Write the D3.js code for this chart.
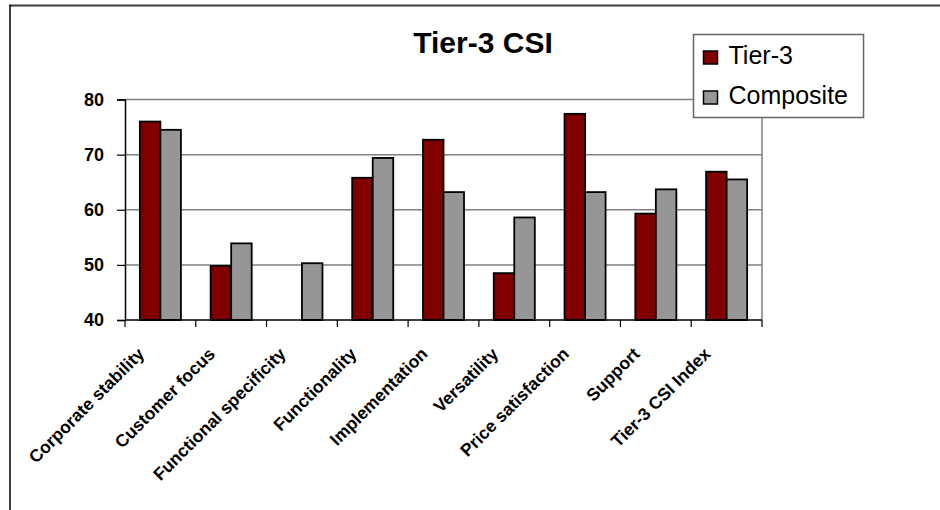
<!DOCTYPE html>
<html>
<head>
<meta charset="utf-8">
<script src="https://cdn.jsdelivr.net/npm/d3@7"></script>
<style>
  body { margin: 0; background: #fff; }
  text { font-family: "Liberation Sans", Arial, sans-serif; }
</style>
</head>
<body>
<div id="chart"></div>
<script>
// chart data
var categories = ["Corporate stability", "Customer focus", "Functional specificity",
  "Functionality", "Implementation", "Versatility", "Price satisfaction",
  "Support", "Tier-3 CSI Index"];
var seriesNames = ["Tier-3", "Composite"];
var tier3 = [76, 49.8, null, 65.8, 72.7, 48.5, 77.4, 59.3, 66.9];
var composite = [74.5, 53.9, 50.3, 69.4, 63.2, 58.6, 63.2, 63.7, 65.5];
var yTicks = [40, 50, 60, 70, 80];
var colors = ["#800000", "#969696"];

var width = 940, height = 510;
var plot = {left: 125, right: 762, top: 99.5, bottom: 320};

var svg = d3.select("#chart").append("svg")
  .attr("width", width)
  .attr("height", height);

// outer frame (only top and left visible)
svg.append("line").attr("x1", 9).attr("x2", width).attr("y1", 5.5).attr("y2", 5.5)
  .attr("stroke", "#3a3a3a").attr("stroke-width", 2);
svg.append("line").attr("x1", 10).attr("x2", 10).attr("y1", 5).attr("y2", height)
  .attr("stroke", "#000").attr("stroke-width", 1.5);

var x0 = d3.scaleBand().domain(categories).range([plot.left, plot.right]).padding(0);
var bw = x0.bandwidth();
var x1 = d3.scaleBand().domain(seriesNames).range([bw * 0.21, bw * 0.79]).padding(0);
var y = d3.scaleLinear().domain([40, 80]).range([plot.bottom, plot.top]);

// gridlines
svg.append("g").selectAll("line")
  .data(yTicks.filter(function(d) { return d > 40; }))
  .enter().append("line")
  .attr("x1", plot.left).attr("x2", plot.right)
  .attr("y1", function(d) { return y(d); })
  .attr("y2", function(d) { return y(d); })
  .attr("stroke", "#808080").attr("stroke-width", 1.5);

// right border of plot area
svg.append("line").attr("x1", plot.right).attr("x2", plot.right)
  .attr("y1", plot.top).attr("y2", plot.bottom)
  .attr("stroke", "#808080").attr("stroke-width", 1.5);

// bars
var rows = categories.map(function(c, i) {
  return {cat: c, vals: [tier3[i], composite[i]]};
});
var groups = svg.append("g").selectAll("g")
  .data(rows).enter().append("g")
  .attr("transform", function(d) { return "translate(" + x0(d.cat) + ",0)"; });
groups.selectAll("rect")
  .data(function(d) {
    return d.vals.map(function(v, k) { return {s: seriesNames[k], v: v, k: k}; })
      .filter(function(e) { return e.v != null; });
  })
  .enter().append("rect")
  .attr("x", function(d) { return x1(d.s); })
  .attr("width", x1.bandwidth())
  .attr("y", function(d) { return y(d.v); })
  .attr("height", function(d) { return y(40) - y(d.v); })
  .attr("fill", function(d) { return colors[d.k]; })
  .attr("stroke", "#000").attr("stroke-width", 1.8);

// y axis
var yAxis = svg.append("g")
  .attr("transform", "translate(" + plot.left + ",0)")
  .call(d3.axisLeft(y).tickValues(yTicks).tickSize(8).tickPadding(13));
yAxis.select(".domain").attr("stroke", "#000").attr("stroke-width", 1.5);
yAxis.selectAll(".tick line").attr("stroke", "#000").attr("stroke-width", 1.2);
yAxis.selectAll("text")
  .style("font-family", "'Liberation Sans', Arial, sans-serif")
  .style("font-size", "18px").style("font-weight", "bold").attr("fill", "#000");

// x axis: ticks between categories
var xAxis = svg.append("g").attr("transform", "translate(0," + plot.bottom + ")");
xAxis.append("line").attr("x1", plot.left).attr("x2", plot.right)
  .attr("stroke", "#000").attr("stroke-width", 1.5);
var bounds = categories.map(function(c) { return x0(c); }).concat([plot.right]);
xAxis.selectAll(".xt").data(bounds).enter().append("line")
  .attr("class", "xt")
  .attr("x1", function(d) { return d; }).attr("x2", function(d) { return d; })
  .attr("y1", 0).attr("y2", 7)
  .attr("stroke", "#000").attr("stroke-width", 1.2);

// rotated category labels
xAxis.selectAll(".xl").data(categories).enter().append("text")
  .attr("class", "xl")
  .attr("transform", function(d) {
    return "translate(" + (x0(d) + bw / 2 - 15) + ",35) rotate(-45)";
  })
  .attr("text-anchor", "end")
  .style("font-size", "17.5px").style("font-weight", "bold")
  .text(function(d) { return d; });

// title
svg.append("text").attr("x", 483).attr("y", 53)
  .attr("text-anchor", "middle")
  .style("font-size", "30px").style("font-weight", "bold")
  .text("Tier-3 CSI");

// legend
var legend = svg.append("g").attr("transform", "translate(693.5,34.5)");
legend.append("rect").attr("width", 170).attr("height", 83)
  .attr("fill", "#fff").attr("stroke", "#666").attr("stroke-width", 1.5);
var items = legend.selectAll(".li").data(seriesNames).enter().append("g")
  .attr("class", "li")
  .attr("transform", function(d, i) { return "translate(0," + (i * 40) + ")"; });
items.append("rect").attr("x", 10).attr("y", 16.5).attr("width", 14).attr("height", 13)
  .attr("fill", function(d, i) { return colors[i]; })
  .attr("stroke", "#000").attr("stroke-width", 1.5);
items.append("text").attr("x", 35).attr("y", 29)
  .style("font-size", "25px")
  .text(function(d) { return d; });
</script>
</body>
</html>
